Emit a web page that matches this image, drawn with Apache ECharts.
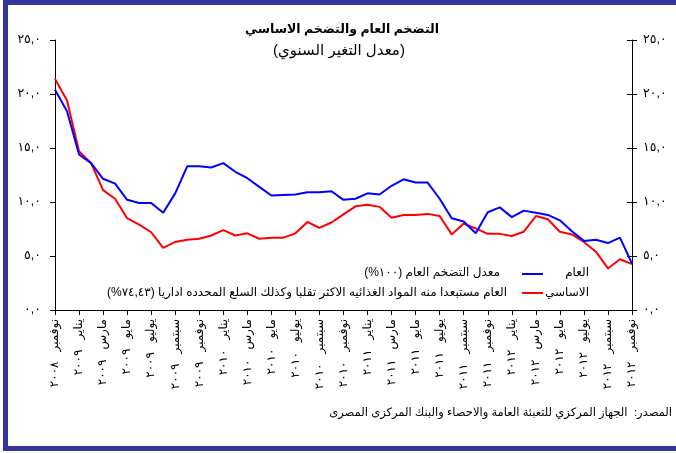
<!DOCTYPE html>
<html>
<head>
<meta charset="utf-8">
<script src="https://cdn.jsdelivr.net/npm/echarts@6/dist/echarts.min.js"></script>
<style>
html,body{margin:0;padding:0;background:#fff;}
#c{width:676px;height:453px;direction:rtl;}
</style>
</head>
<body>
<div id="c"></div>
<script>
const months = [
 'نوفمبر ٢٠٠٨','ديسمبر ٢٠٠٨',
 'يناير ٢٠٠٩','فبراير ٢٠٠٩','مارس ٢٠٠٩','ابريل ٢٠٠٩','مايو ٢٠٠٩','يونيو ٢٠٠٩','يوليو ٢٠٠٩','اغسطس ٢٠٠٩','سبتمبر ٢٠٠٩','اكتوبر ٢٠٠٩','نوفمبر ٢٠٠٩','ديسمبر ٢٠٠٩',
 'يناير ٢٠١٠','فبراير ٢٠١٠','مارس ٢٠١٠','ابريل ٢٠١٠','مايو ٢٠١٠','يونيو ٢٠١٠','يوليو ٢٠١٠','اغسطس ٢٠١٠','سبتمبر ٢٠١٠','اكتوبر ٢٠١٠','نوفمبر ٢٠١٠','ديسمبر ٢٠١٠',
 'يناير ٢٠١١','فبراير ٢٠١١','مارس ٢٠١١','ابريل ٢٠١١','مايو ٢٠١١','يونيو ٢٠١١','يوليو ٢٠١١','اغسطس ٢٠١١','سبتمبر ٢٠١١','اكتوبر ٢٠١١','نوفمبر ٢٠١١','ديسمبر ٢٠١١',
 'يناير ٢٠١٢','فبراير ٢٠١٢','مارس ٢٠١٢','ابريل ٢٠١٢','مايو ٢٠١٢','يونيو ٢٠١٢','يوليو ٢٠١٢','اغسطس ٢٠١٢','سبتمبر ٢٠١٢','اكتوبر ٢٠١٢','نوفمبر ٢٠١٢'
];
const headline = [20.4, 18.4, 14.4, 13.6, 12.15, 11.7, 10.2, 9.9, 9.9, 9.0, 10.8, 13.3, 13.3, 13.2, 13.6, 12.8, 12.2, 11.4, 10.6, 10.65, 10.7, 10.9, 10.9, 11.0, 10.2, 10.3, 10.8, 10.7, 11.5, 12.1, 11.8, 11.8, 10.3, 8.5, 8.2, 7.1, 9.05, 9.5, 8.6, 9.2, 9.0, 8.8, 8.3, 7.3, 6.4, 6.5, 6.2, 6.7, 4.3];
const core = [21.4, 19.4, 14.7, 13.6, 11.1, 10.3, 8.5, 7.9, 7.2, 5.75, 6.3, 6.5, 6.6, 6.9, 7.4, 6.9, 7.1, 6.6, 6.7, 6.7, 7.1, 8.15, 7.6, 8.1, 8.85, 9.6, 9.75, 9.55, 8.55, 8.8, 8.8, 8.9, 8.7, 7.0, 8.0, 7.55, 7.05, 7.05, 6.85, 7.25, 8.7, 8.4, 7.25, 7.0, 6.3, 5.4, 3.85, 4.7, 4.25];
const yTickLabels = ['٠,٠','٥,٠','١٠,٠','١٥,٠','٢٠,٠','٢٥,٠'];
const titleText = 'التضخم العام والتضخم الاساسي';
const subtitleText = '(معدل التغير السنوي)';
const legendNames = ['العام', 'الاساسي'];
const legendDescs = ['معدل التضخم العام (١٠٠%)', 'العام مستبعدا منه المواد الغذائيه الاكثر تقلبا وكذلك السلع المحدده اداريا (٧٤,٤٣%)'];
const sourceText = 'المصدر:  الجهاز المركزي للتعبئة العامة والاحصاء والبنك المركزى المصرى';

const FONT = 'Arial, "DejaVu Sans", sans-serif';
const frameColor = '#333399';
const yLab = v => yTickLabels[Math.round(v / 5)] || '';
const xLab = v => v.replace(' ', '   ');

const chart = echarts.init(document.getElementById('c'), null, {renderer: 'canvas'});
const axisBase = {
  type: 'value', min: 0, max: 25, interval: 5,
  axisLine: {show: true, lineStyle: {color: '#000', width: 1}},
  splitLine: {show: false}
};
chart.setOption({
  animation: false,
  backgroundColor: '#fff',
  grid: {left: 55, right: 44, top: 40, bottom: 143, containLabel: false},
  xAxis: {
    type: 'category', data: months, boundaryGap: false,
    axisLine: {lineStyle: {color: '#000', width: 1}},
    axisTick: {show: true, interval: 1, length: 5, lineStyle: {color: '#000'}},
    axisLabel: {interval: 1, rotate: 90, margin: 9, fontSize: 12, color: '#000', fontFamily: FONT, formatter: xLab}
  },
  yAxis: [
    Object.assign({}, axisBase, {position: 'left',
      axisTick: {show: true, length: 5, lineStyle: {color: '#000'}},
      axisLabel: {formatter: yLab, margin: 14, fontSize: 12.5, color: '#000', fontFamily: FONT}}),
    Object.assign({}, axisBase, {position: 'right',
      axisTick: {show: true, length: 5, lineStyle: {color: '#000'}},
      axisLabel: {formatter: yLab, margin: 11, fontSize: 12.5, color: '#000', fontFamily: FONT}}),
    Object.assign({}, axisBase, {position: 'right', axisLine: {show: false},
      axisTick: {show: true, inside: true, length: 5, lineStyle: {color: '#000'}},
      axisLabel: {show: false}})
  ],
  series: [
    {name: legendNames[0], type: 'line', data: headline, yAxisIndex: 0, showSymbol: false, symbol: 'none',
     lineStyle: {color: '#0000ff', width: 2}, itemStyle: {color: '#0000ff'}, z: 3},
    {name: legendNames[1], type: 'line', data: core, yAxisIndex: 0, showSymbol: false, symbol: 'none',
     lineStyle: {color: '#ff0000', width: 2}, itemStyle: {color: '#ff0000'}, z: 2}
  ],
  graphic: [
    {type: 'rect', shape: {x: 3, y: 0, width: 673, height: 5}, style: {fill: frameColor}, silent: true},
    {type: 'rect', shape: {x: 3, y: 0, width: 5, height: 451}, style: {fill: frameColor}, silent: true},
    {type: 'rect', shape: {x: 3, y: 446, width: 673, height: 5}, style: {fill: frameColor}, silent: true},
    {type: 'text', x: 342, y: 30, style: {text: titleText, font: 'bold 12.5px ' + FONT, fill: '#000', align: 'center', verticalAlign: 'middle'}},
    {type: 'text', x: 339, y: 51, style: {text: subtitleText, font: '15px ' + FONT, fill: '#000', align: 'center', verticalAlign: 'middle'}},
    {type: 'text', x: 589, y: 273, style: {text: legendNames[0], font: '12px ' + FONT, fill: '#000', align: 'right', verticalAlign: 'middle'}},
    {type: 'line', shape: {x1: 522, y1: 274, x2: 543, y2: 274}, style: {stroke: '#0000ff', lineWidth: 2}},
    {type: 'text', x: 500, y: 273, style: {text: legendDescs[0], font: '12px ' + FONT, fill: '#000', align: 'right', verticalAlign: 'middle'}},
    {type: 'text', x: 589, y: 293, style: {text: legendNames[1], font: '12px ' + FONT, fill: '#000', align: 'right', verticalAlign: 'middle'}},
    {type: 'line', shape: {x1: 522, y1: 293, x2: 543, y2: 293}, style: {stroke: '#ff0000', lineWidth: 2}},
    {type: 'text', x: 507, y: 293, style: {text: legendDescs[1], font: '12px ' + FONT, fill: '#000', align: 'right', verticalAlign: 'middle'}},
    {type: 'text', x: 672, y: 413, style: {text: sourceText, font: '11.5px ' + FONT, fill: '#000', align: 'right', verticalAlign: 'middle'}}
  ]
});
</script>
</body>
</html>
